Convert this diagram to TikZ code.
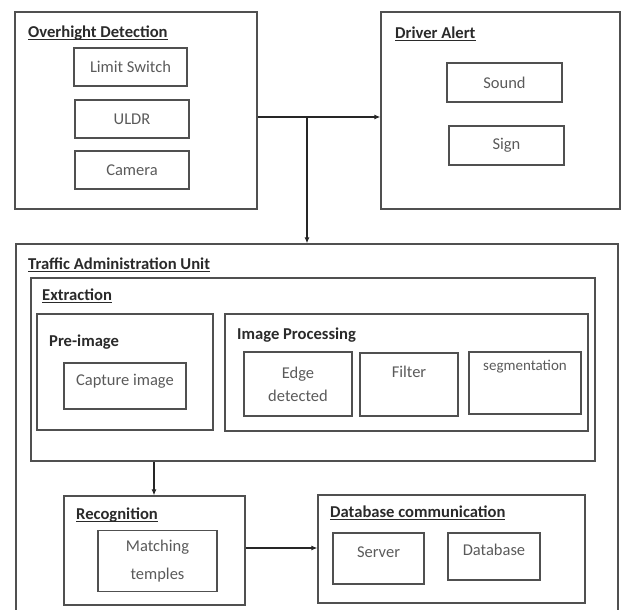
\documentclass[tikz,border=0pt]{standalone}
\usepackage{fontspec}
\setmainfont{Carlito}
\newcommand\myul[1]{\setbox0\hbox{#1}\rlap{\rule[-2.4pt]{\wd0}{1.1pt}}\box0}
\usetikzlibrary{arrows.meta}
\definecolor{linec}{HTML}{505050}
\definecolor{titlec}{HTML}{2A2A2A}
\definecolor{textc}{HTML}{5A5A5A}
\tikzset{
  box/.style={draw=linec, line width=1.3pt, inner sep=0pt, minimum width=#1},
  lbl/.style={text=textc, font=\fontsize{16.5}{23}\selectfont, inner sep=0pt, align=center},
  ttl/.style={text=titlec, font=\fontsize{16.6}{18}\selectfont\bfseries, inner sep=0pt, anchor=west},
  arr/.style={draw=black!85, line width=1.1pt, -{Latex[length=6pt,width=5pt]}},
  conn/.style={draw=black!85, line width=1.1pt}
}
\begin{document}
\begin{tikzpicture}[x=1pt,y=-1pt]
\useasboundingbox (0,0) rectangle (621,610);
\clip (0,0) rectangle (621,610);
% top left
\node[box=242pt, minimum height=197pt] (od) at (136,110.5) {};
\node[ttl] (odT) at (28,33) {\myul{Overhight Detection}};
\node[box=113pt, minimum height=38pt, lbl] (ls) at (130.5,67) {Limit Switch};
\node[box=114pt, minimum height=38pt, lbl] (uldr) at (132,119) {ULDR};
\node[box=114pt, minimum height=38pt, lbl] (cam) at (132,170) {Camera};
% top right
\node[box=239pt, minimum height=197pt] (da) at (500.5,110.5) {};
\node[ttl] (daT) at (395,34) {\myul{Driver Alert}};
\node[box=115pt, minimum height=39pt, lbl] (snd) at (504.5,82.5) {Sound};
\node[box=115pt, minimum height=39pt, lbl] (sgn) at (506.5,145.5) {Sign};
% traffic unit
\node[box=602pt, minimum height=406pt] (tau) at (317,447) {};
\node[ttl] (tauT) at (28,265) {\myul{Traffic Administration Unit}};
\node[box=564pt, minimum height=183pt] (ext) at (313,369.5) {};
\node[ttl] (extT) at (42,296) {\myul{Extraction}};
\node[box=176pt, minimum height=116pt] (pre) at (125,372) {};
\node[ttl] (preT) at (49,342) {Pre-image};
\node[box=122pt, minimum height=46pt] (cap) at (125,386) {};
\node[lbl] (capT) at (125,381) {Capture image};
\node[box=363pt, minimum height=117pt] (ip) at (406.5,372.5) {};
\node[ttl] (ipT) at (237,335) {Image Processing};
\node[box=108pt, minimum height=64pt, lbl] (edge) at (298,384) {Edge\\detected};
\node[box=98pt, minimum height=63pt] (flt) at (409,384.5) {};
\node[lbl] (fltT) at (409,372) {Filter};
\node[box=112pt, minimum height=62pt] (seg) at (525,383) {};
\node[lbl, font=\fontsize{15}{17}\selectfont] (segT) at (525,367) {segmentation};
% recognition
\node[box=181pt, minimum height=109pt] (rec) at (154.5,550.5) {};
\node[ttl] (recT) at (76,515) {\myul{Recognition}};
\node[box=119pt, minimum height=61pt, lbl, font=\fontsize{16.5}{28}\selectfont] (mt) at (157.5,561) {Matching\\temples};
% database
\node[box=267pt, minimum height=108pt] (dbc) at (451.5,549) {};
\node[ttl] (dbcT) at (330,513) {\myul{Database communication}};
\node[box=91pt, minimum height=51pt] (srv) at (378.5,558.5) {};
\node[lbl] (srvT) at (378.5,552) {Server};
\node[box=92pt, minimum height=47pt] (db) at (494,556.5) {};
\node[lbl] (dbT) at (494,550) {Database};
% connectors
\coordinate (j) at (307,117);
\draw[conn] (od.east |- j) -- (j);
\draw[arr] (j) -- (da.west |- j);
\draw[arr] (j) -- (j |- tau.north);
\coordinate (ax) at (154,0);
\draw[arr] (ext.south -| ax) -- (rec.north -| ax);
\coordinate (ay) at (0,548);
\draw[arr] (rec.east |- ay) -- (dbc.west |- ay);
\end{tikzpicture}
\end{document}
